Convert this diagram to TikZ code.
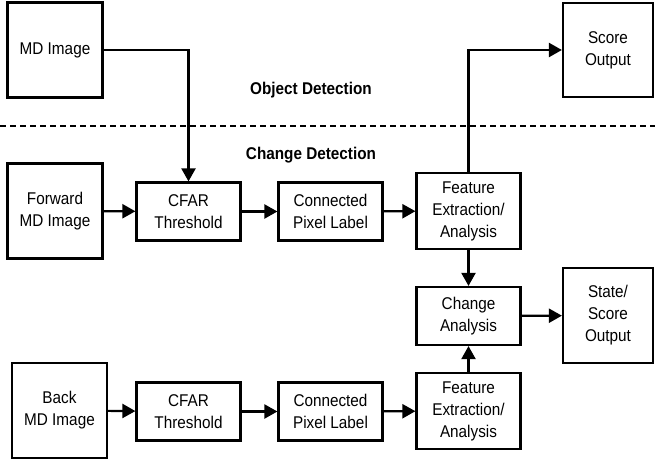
\documentclass[tikz,border=0pt]{standalone}
\usepackage{fontspec}
\setmainfont{Liberation Sans}[FakeStretch=0.9]
\usetikzlibrary{arrows.meta}

\begin{document}
\begin{tikzpicture}[x=1pt,y=-1pt,line width=2pt,
		block/.style={draw, line width=2.2pt, align=center, inner sep=0pt, font=\fontsize{17}{22}\selectfont},
		imgbox/.style={block, minimum width=95pt, minimum height=95pt},
		outbox/.style={block, minimum width=90pt, minimum height=94pt},
		stepbox/.style={block, minimum width=104pt, minimum height=58pt},
		featbox/.style={block, minimum width=104pt, minimum height=76pt},
		flow/.style={line width=2.2pt, -{Triangle[length=13pt,width=14pt]}},
		title/.style={font=\bfseries\fontsize{17}{22}\selectfont}]
	\useasboundingbox (0,0) rectangle (655,462);
	% object detection
	\node[imgbox]  (md-image)     at (55,50)      {MD Image};
	\node[outbox]  (score)        at (608,50)     {Score\\Output};
	\node[title]   (object-title) at (311,90)     {Object Detection};
	\coordinate (split-left)  at (0,126);
	\coordinate (split-right) at (655,126);
	\draw[dash pattern=on 6pt off 4pt, line width=1.5pt] (split-left) -- (split-right);
	\node[title]   (change-title) at (311,155)    {Change Detection};
	% forward chain
	\node[imgbox]  (fwd-image)    at (55,211)     {Forward\\MD Image};
	\node[stepbox] (fwd-cfar)     at (188.5,211.5) {CFAR\\Threshold};
	\node[stepbox] (fwd-label)    at (330.5,211.5) {Connected\\Pixel Label};
	\node[featbox] (fwd-feature)  at (468.5,211)  {Feature\\Extraction/\\Analysis};
	% change analysis
	\node[stepbox] (change)       at (468.5,316)  {Change\\Analysis};
	\node[outbox, minimum height=95pt] (state) at (608,315.5) {State/\\Score\\Output};
	% back chain
	\node[imgbox]  (back-image)   at (59.5,410.5) {Back\\MD Image};
	\node[stepbox] (back-cfar)    at (188.5,411.5) {CFAR\\Threshold};
	\node[stepbox] (back-label)   at (330.5,411.5) {Connected\\Pixel Label};
	\node[featbox] (back-feature) at (468.5,411)  {Feature\\Extraction/\\Analysis};
	\draw[flow] (md-image.east) -| (fwd-cfar.north);
	\draw[flow] (fwd-feature.north) |- (score.west);
	\path[flow]
		(fwd-image)    edge (fwd-cfar)
		(fwd-cfar)     edge (fwd-label)
		(fwd-label)    edge (fwd-feature)
		(fwd-feature)  edge (change)
		(back-feature) edge (change)
		(change)       edge (state)
		(back-image)   edge (back-cfar)
		(back-cfar)    edge (back-label)
		(back-label)   edge (back-feature);
\end{tikzpicture}
\end{document}
